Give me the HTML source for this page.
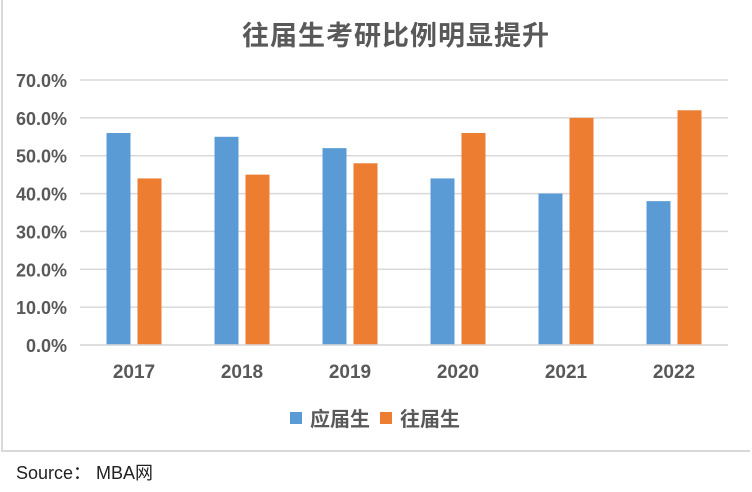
<!DOCTYPE html>
<html><head><meta charset="utf-8">
<style>
body{margin:0;background:#fff;width:752px;height:492px;overflow:hidden;font-family:"Liberation Sans","Noto Sans CJK SC",sans-serif;}
#frame{position:absolute;left:1px;top:0px;width:749px;height:452px;border:2px solid #d9d9d9;border-top:none;border-right:none;box-sizing:border-box;}
#title{position:absolute;left:0;width:792px;top:14px;text-align:center;font-size:27px;font-weight:bold;color:#595959;letter-spacing:1px;}
#source{position:absolute;left:16px;top:459px;font-size:18px;color:#222;}
</style></head><body>
<div id="frame"></div>
<div id="title">往届生考研比例明显提升</div>
<svg id="chart" width="752" height="492" style="position:absolute;left:0;top:0"></svg>
<div id="source">Source：&nbsp;MBA网</div>
<script>
const categories=["2017","2018","2019","2020","2021","2022"];
const freshGrads=[56,55,52,44,40,38];
const pastGrads=[44,45,48,56,60,62];
const yTicks=[0,10,20,30,40,50,60,70];
const seriesNames=["应届生","往届生"];
const NS="http://www.w3.org/2000/svg";
const svg=document.getElementById('chart');
const L=80,R=728,T=80,B=345,yMax=70;
const y=v=>B-(v/yMax)*(B-T);
const step=(R-L)/categories.length;
const cx=i=>L+step*(i+0.5);
function mk(tag,attrs){const e=document.createElementNS(NS,tag);for(const k in attrs)e.setAttribute(k,attrs[k]);svg.appendChild(e);return e;}
yTicks.forEach(t=>{
 const g=mk('line',{x1:L,x2:R,y1:y(t),y2:y(t),stroke:'#d9d9d9','stroke-width':1.5});
 
 
 const tx=mk('text',{x:67,y:y(t)+7,'text-anchor':'end','font-size':18,'font-weight':'bold',fill:'#595959','font-family':'Liberation Sans, sans-serif'});
 tx.textContent=t.toFixed(1)+'%';
 
 
});
const bw=24,gap=7;
categories.forEach((c,i)=>{
 const b1=mk('rect',{x:cx(i)-gap/2-bw,y:y(freshGrads[i]),width:bw,height:B-y(freshGrads[i]),fill:'#5b9bd5'});
 
 
 const b2=mk('rect',{x:cx(i)+gap/2,y:y(pastGrads[i]),width:bw,height:B-y(pastGrads[i]),fill:'#ed7d31'});
 
 
 const tx=mk('text',{x:cx(i),y:378,'text-anchor':'middle','font-size':19,'font-weight':'bold',fill:'#595959','font-family':'Liberation Sans, sans-serif'});
 tx.textContent=c;
 
 
});
const ax=mk('line',{x1:L,x2:R,y1:B,y2:B,stroke:'#d9d9d9','stroke-width':1.5});


const colors=['#5b9bd5','#ed7d31'];
const lx=[290,380];
seriesNames.forEach((n,i)=>{
 const r=mk('rect',{x:lx[i],y:412,width:12,height:12,fill:colors[i]});
 
 
 const t=mk('text',{x:lx[i]+20,y:426,'font-size':20,'font-weight':'bold',fill:'#595959','font-family':'Liberation Sans, Noto Sans CJK SC, sans-serif'});
 t.textContent=n;
 
 
});
</script>
</body></html>
